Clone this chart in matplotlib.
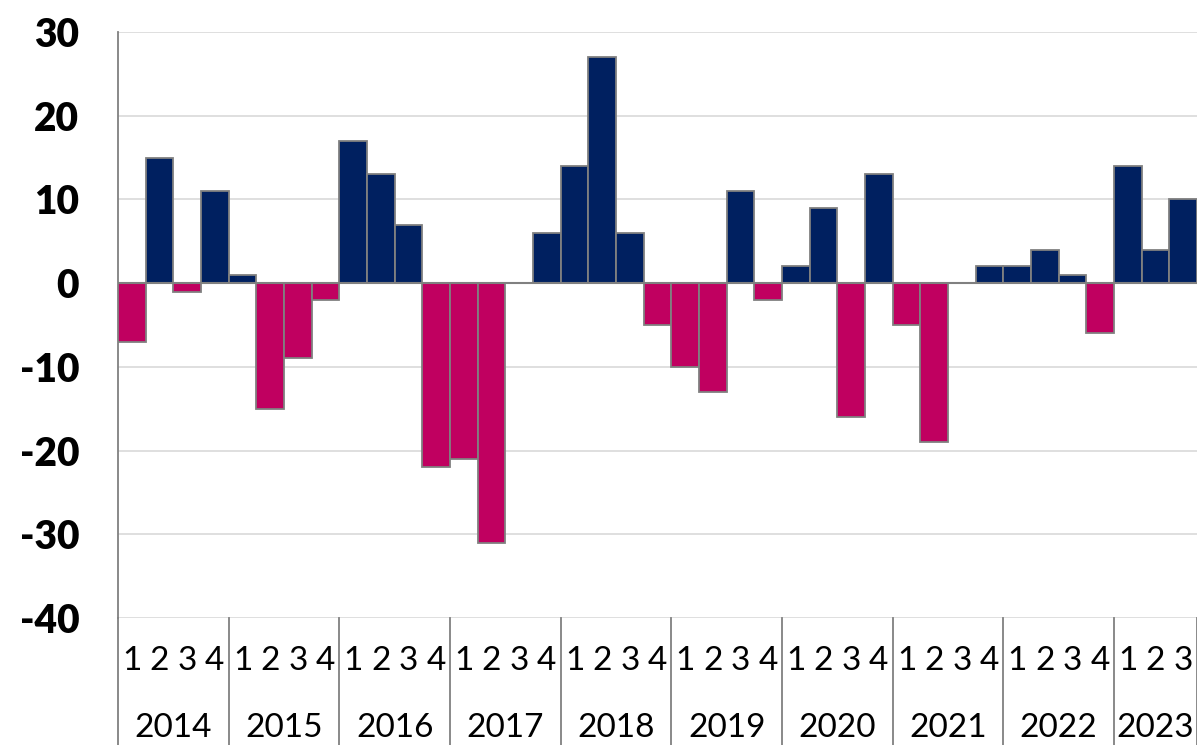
#!/usr/bin/env python3
"""
Quarterly balance chart, 2014 Q1 - 2023 Q3
Positive quarters in navy, negative quarters in magenta
"""

import matplotlib.pyplot as plt
from matplotlib import transforms

# Data
years = ['2014', '2015', '2016', '2017', '2018', '2019', '2020', '2021', '2022', '2023']
quarters = ['1', '2', '3', '4'] * 9 + ['1', '2', '3']
values = [
    -7, 15, -1, 11,
    1, -15, -9, -2,
    17, 13, 7, -22,
    -21, -31, 0, 6,
    14, 27, 6, -5,
    -10, -13, 11, -2,
    2, 9, -16, 13,
    -5, -19, 0, 2,
    2, 4, 1, -6,
    14, 4, 10,
]
y_ticks = [-40, -30, -20, -10, 0, 10, 20, 30]

NAVY = '#002060'
MAGENTA = '#C00060'
EDGE = '#808080'
GRID = '#D9D9D9'

plt.rcParams['font.family'] = ['Lato', 'DejaVu Sans']

fig = plt.figure(figsize=(11.97, 7.45), dpi=100)
ax = fig.add_axes([0.0986, 0.1705, 0.9014, 0.7865])

x = list(range(len(values)))
colors = [NAVY if v >= 0 else MAGENTA for v in values]
ax.bar(x, values, width=1.0, color=colors, edgecolor=EDGE, linewidth=1.3, zorder=3)

ax.set_xlim(-0.5, len(values) - 0.5)
ax.set_ylim(-40, 30)
ax.set_yticks(y_ticks)
ax.set_yticklabels([str(t) for t in y_ticks], fontsize=28, fontweight='heavy')
ax.tick_params(axis='y', length=0, pad=28)
ax.grid(axis='y', color=GRID, linewidth=1.2, zorder=0)
ax.axhline(0, color=EDGE, linewidth=1.5, zorder=4)

for side in ['top', 'right', 'bottom']:
    ax.spines[side].set_visible(False)
ax.spines['left'].set_color(EDGE)
ax.spines['left'].set_linewidth(1.3)

# Two-level category axis
ax.set_xticks([])
trans = transforms.blended_transform_factory(ax.transData, ax.transAxes)
for i, q in enumerate(quarters):
    ax.text(i, -0.073, q, transform=trans, ha='center', va='center', fontsize=24)

for k, yr in enumerate(years):
    start = k * 4
    end = min(start + 4, len(values)) - 1
    ax.text((start + end) / 2, -0.188, yr, transform=trans,
            ha='center', va='center', fontsize=24)

sep_depth = -0.217
for k in range(len(years) + 1):
    xb = min(k * 4, len(values)) - 0.5
    ax.plot([xb, xb], [0, sep_depth], transform=trans, color=EDGE,
            linewidth=1.3, clip_on=False)

plt.savefig('out.png', dpi=100)
